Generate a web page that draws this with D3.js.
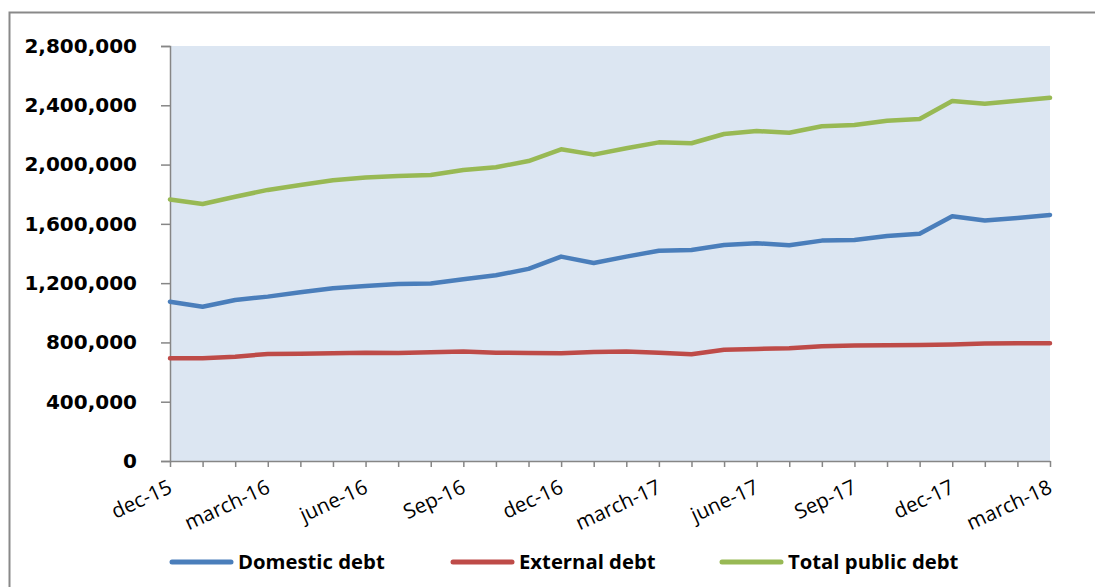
<!DOCTYPE html>
<html>
<head>
<meta charset="utf-8">
<script src="https://cdn.jsdelivr.net/npm/d3@7"></script>
<style>
  body { margin: 0; background: #fff; }
  svg { display: block; }
</style>
</head>
<body>
<div id="chart"></div>
<script>
// monthly labels dec-15 .. march-18
var months = ['dec-15', 'jan-16', 'feb-16', 'march-16', 'apr-16', 'may-16', 'june-16',
  'july-16', 'aug-16', 'Sep-16', 'oct-16', 'nov-16', 'dec-16', 'jan-17', 'feb-17',
  'march-17', 'apr-17', 'may-17', 'june-17', 'july-17', 'aug-17', 'Sep-17', 'oct-17',
  'nov-17', 'dec-17', 'jan-18', 'feb-18', 'march-18'];

var domesticDebt = [1075000, 1041000, 1086000, 1109000, 1138000, 1165000, 1181000,
  1194000, 1197000, 1226000, 1253000, 1296000, 1379000, 1336000, 1379000,
  1419000, 1424000, 1457000, 1469000, 1455000, 1487000, 1491000, 1518000,
  1534000, 1651000, 1622000, 1640000, 1660000];

var externalDebt = [693000, 693000, 704000, 722000, 724000, 727000, 731000,
  729000, 733000, 738000, 731000, 729000, 727000, 736000, 738000,
  731000, 720000, 751000, 756000, 760000, 775000, 780000, 781000,
  782000, 786000, 793000, 794000, 794000];

var totalDebt = [1765000, 1734000, 1783000, 1829000, 1862000, 1894000, 1912000,
  1923000, 1930000, 1964000, 1982000, 2024000, 2103000, 2067000, 2110000,
  2150000, 2144000, 2206000, 2226000, 2215000, 2258000, 2267000, 2296000,
  2308000, 2429000, 2411000, 2431000, 2451000];

var yTicks = [0, 400000, 800000, 1200000, 1600000, 2000000, 2400000, 2800000];

var seriesNames = ['Domestic debt', 'External debt', 'Total public debt'];
var seriesColors = ['#4a7ebb', '#be4b48', '#98b954'];

var svgWidth = 1095;
var svgHeight = 587;
var margin = { top: 46, right: 45, bottom: 126, left: 170 };
var width = svgWidth - margin.left - margin.right;
var height = svgHeight - margin.top - margin.bottom;

var svg = d3.select('#chart')
  .append('svg')
  .attr('width', svgWidth)
  .attr('height', svgHeight);

// outer frame (only left and top edges are visible in the picture)
svg.append('rect')
  .attr('x', 9.5)
  .attr('y', 12.5)
  .attr('width', 1100)
  .attr('height', 600)
  .attr('fill', 'none')
  .attr('stroke', '#898989')
  .attr('stroke-width', 2);

var chartGroup = svg.append('g')
  .attr('transform', `translate(${margin.left}, ${margin.top})`);

var xScale = d3.scalePoint()
  .domain(months)
  .range([0, width]);

var yScale = d3.scaleLinear()
  .domain([0, 2800000])
  .range([height, 0]);

// plot background
chartGroup.append('rect')
  .attr('width', width)
  .attr('height', height)
  .attr('fill', '#dce6f2');

// y axis
var leftAxis = d3.axisLeft(yScale)
  .tickValues(yTicks)
  .tickSize(9)
  .tickPadding(24)
  .tickFormat(d3.format(','));

var yAxisG = chartGroup.append('g').call(leftAxis);
yAxisG.select('.domain').attr('stroke', '#868686').attr('stroke-width', 1.5);
yAxisG.selectAll('.tick line').attr('stroke', '#868686').attr('stroke-width', 1.5);
yAxisG.selectAll('.tick text')
  .attr('font-family', 'DejaVu Sans, Verdana, sans-serif')
  .attr('font-weight', 'bold')
  .attr('font-size', 20)
  .attr('fill', '#000');

// x axis
var bottomAxis = d3.axisBottom(xScale)
  .tickSizeInner(6)
  .tickSizeOuter(0)
  .tickFormat(function(d, i) { return i % 3 === 0 ? d : ''; });

var xAxisG = chartGroup.append('g')
  .attr('transform', `translate(0, ${height})`)
  .call(bottomAxis);
xAxisG.select('.domain').attr('stroke', '#868686').attr('stroke-width', 1.5);
xAxisG.selectAll('.tick line').attr('stroke', '#868686').attr('stroke-width', 1.5);
xAxisG.selectAll('.tick text')
  .attr('font-family', 'Open Sans, sans-serif')
  .attr('font-size', 20.5)
  .attr('fill', '#000')
  .attr('text-anchor', 'end')
  .attr('y', 0)
  .attr('dy', 0)
  .attr('transform', 'translate(3, 31) rotate(-25)');

// lines
var allSeries = [domesticDebt, externalDebt, totalDebt];
var line = d3.line()
  .x(function(d, i) { return xScale(months[i]); })
  .y(function(d) { return yScale(d); });

allSeries.forEach(function(values, k) {
  chartGroup.append('path')
    .datum(values)
    .attr('d', line)
    .attr('fill', 'none')
    .attr('stroke', seriesColors[k])
    .attr('stroke-width', 4.5)
    .attr('stroke-linejoin', 'round')
    .attr('stroke-linecap', 'round');
});

// legend
var legendX = [170, 451, 720];
var legend = svg.append('g');
seriesNames.forEach(function(name, k) {
  legend.append('line')
    .attr('x1', legendX[k] + 2)
    .attr('x2', legendX[k] + 61)
    .attr('y1', 562)
    .attr('y2', 562)
    .attr('stroke', seriesColors[k])
    .attr('stroke-width', 5)
    .attr('stroke-linecap', 'round');
  legend.append('text')
    .attr('x', legendX[k] + 68)
    .attr('y', 569)
    .attr('font-family', 'Open Sans, sans-serif')
    .attr('font-weight', 'bold')
    .attr('font-size', 20.3)
    .attr('fill', '#000')
    .text(name);
});
</script>
</body>
</html>
